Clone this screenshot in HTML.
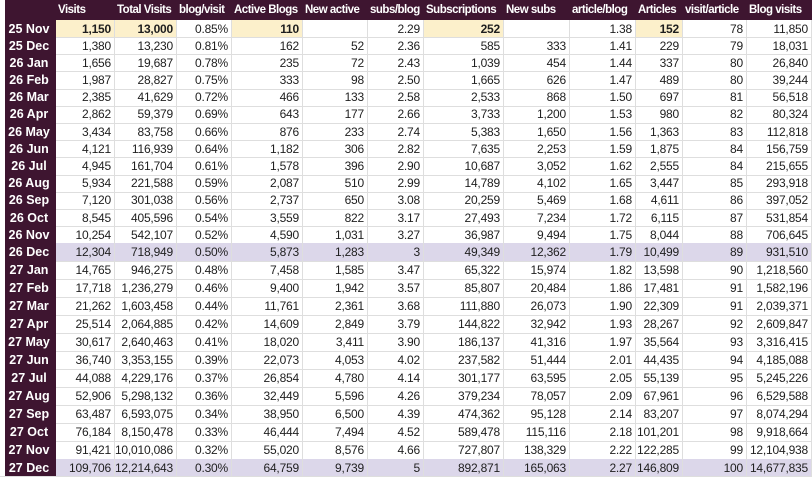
<!DOCTYPE html>
<html><head><meta charset="utf-8"><style>
body{margin:0;width:812px;height:477px;overflow:hidden;background:#fff;font-family:"Liberation Sans",Arial,sans-serif;font-size:12px;letter-spacing:-0.2px;color:#1e1e1e}
.r{position:absolute;left:0;width:812px;display:flex;border-bottom:1px solid #dedede;box-sizing:border-box}
.c{box-sizing:border-box;border-right:1px solid #dedede;text-align:right;padding-right:3px;display:flex;align-items:center;justify-content:flex-end;white-space:nowrap;overflow:hidden}
.c:first-child{background:#3e1530;color:#fff;font-weight:bold;justify-content:center;border-right:none;border-left:5px solid #fff;font-size:12.5px;letter-spacing:0}
.h{background:#3e1530;color:#fff;font-weight:bold;border-bottom:none}
.h .c{border-right:none;justify-content:flex-start;padding-left:2px;padding-right:0;font-size:11.5px;letter-spacing:-0.5px}
.y{background:#fcf0cb;font-weight:bold}
.l{background:#dcd7ea}
</style></head><body>
<div id="t"></div>
<script>
var W=[56,59,62,55,71,65,56,80,66,66,47,64,65];
var H=["","Visits","Total Visits","blog/visit","Active Blogs","New active","subs/blog","Subscriptions","New subs","article/blog","Articles","visit/article","Blog visits"];
var D=[
["25 Nov","1,150","13,000","0.85%","110","","2.29","252","","1.38","152","78","11,850"],
["25 Dec","1,380","13,230","0.81%","162","52","2.36","585","333","1.41","229","79","18,031"],
["26 Jan","1,656","19,687","0.78%","235","72","2.43","1,039","454","1.44","337","80","26,840"],
["26 Feb","1,987","28,827","0.75%","333","98","2.50","1,665","626","1.47","489","80","39,244"],
["26 Mar","2,385","41,629","0.72%","466","133","2.58","2,533","868","1.50","697","81","56,518"],
["26 Apr","2,862","59,379","0.69%","643","177","2.66","3,733","1,200","1.53","980","82","80,324"],
["26 May","3,434","83,758","0.66%","876","233","2.74","5,383","1,650","1.56","1,363","83","112,818"],
["26 Jun","4,121","116,939","0.64%","1,182","306","2.82","7,635","2,253","1.59","1,875","84","156,759"],
["26 Jul","4,945","161,704","0.61%","1,578","396","2.90","10,687","3,052","1.62","2,555","84","215,655"],
["26 Aug","5,934","221,588","0.59%","2,087","510","2.99","14,789","4,102","1.65","3,447","85","293,918"],
["26 Sep","7,120","301,038","0.56%","2,737","650","3.08","20,259","5,469","1.68","4,611","86","397,052"],
["26 Oct","8,545","405,596","0.54%","3,559","822","3.17","27,493","7,234","1.72","6,115","87","531,854"],
["26 Nov","10,254","542,107","0.52%","4,590","1,031","3.27","36,987","9,494","1.75","8,044","88","706,645"],
["26 Dec","12,304","718,949","0.50%","5,873","1,283","3","49,349","12,362","1.79","10,499","89","931,510"],
["27 Jan","14,765","946,275","0.48%","7,458","1,585","3.47","65,322","15,974","1.82","13,598","90","1,218,560"],
["27 Feb","17,718","1,236,279","0.46%","9,400","1,942","3.57","85,807","20,484","1.86","17,481","91","1,582,196"],
["27 Mar","21,262","1,603,458","0.44%","11,761","2,361","3.68","111,880","26,073","1.90","22,309","91","2,039,371"],
["27 Apr","25,514","2,064,885","0.42%","14,609","2,849","3.79","144,822","32,942","1.93","28,267","92","2,609,847"],
["27 May","30,617","2,640,463","0.41%","18,020","3,411","3.90","186,137","41,316","1.97","35,564","93","3,316,415"],
["27 Jun","36,740","3,353,155","0.39%","22,073","4,053","4.02","237,582","51,444","2.01","44,435","94","4,185,088"],
["27 Jul","44,088","4,229,176","0.37%","26,854","4,780","4.14","301,177","63,595","2.05","55,139","95","5,245,226"],
["27 Aug","52,906","5,298,132","0.36%","32,449","5,596","4.26","379,234","78,057","2.09","67,961","96","6,529,588"],
["27 Sep","63,487","6,593,075","0.34%","38,950","6,500","4.39","474,362","95,128","2.14","83,207","97","8,074,294"],
["27 Oct","76,184","8,150,478","0.33%","46,444","7,494","4.52","589,478","115,116","2.18","101,201","98","9,918,664"],
["27 Nov","91,421","10,010,086","0.32%","55,020","8,576","4.66","727,807","138,329","2.22","122,285","99","12,104,938"],
["27 Dec","109,706","12,214,643","0.30%","64,759","9,739","5","892,871","165,063","2.27","146,809","100","14,677,835"]];
var RH=[17];for(var i=1;i<=10;i++)RH.push(17.2);RH.push(17,17);for(i=0;i<13;i++)RH.push(18);
var h='',y=0;
function row(cells,cls,top,ht,first){var s='<div class="r '+cls+'" style="top:'+top+'px;height:'+ht+'px">';
for(var j=0;j<cells.length;j++){var w=W[j]+(j==0?5:0);var cc='c';if(first&&[1,2,4,7,10].indexOf(j)>=0)cc+=' y';
s+='<div class="'+cc+'" style="width:'+w+'px">'+cells[j]+'</div>';}return s+'</div>';}
W[0]=51;
h+=row(H,'h',0,20,false);y=20;
for(i=0;i<D.length;i++){h+=row(D[i],(i==13||i==25)?'l':'',y,RH[i]+(i<25?1:0),i==0);y+=RH[i];}
document.getElementById('t').innerHTML=h;
</script>
</body></html>
